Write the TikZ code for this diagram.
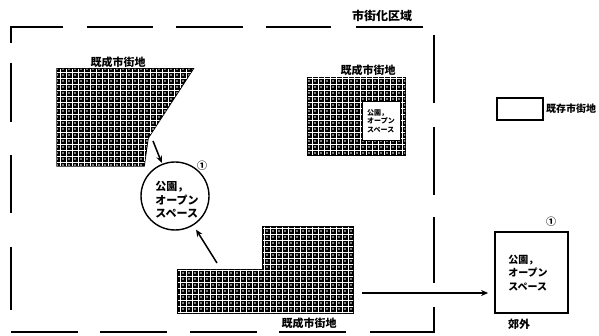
\documentclass[tikz,border=0pt]{standalone}
\usepackage{fontspec}
\setmainfont{Noto Sans CJK JP}
\usetikzlibrary{patterns.meta,arrows.meta}
\begin{document}
\begin{tikzpicture}[x=1pt,y=-1pt,
  bnd/.style={line width=2.2pt},
  hatchblock/.style={draw=black,line width=1.5pt,fill=black,
    postaction={pattern={Hatch[angle=0,distance=6pt,line width=0.4pt]},pattern color=white},
    postaction={pattern={Dots[distance=6pt,radius=0.9pt,xshift=3pt,yshift=3pt]},pattern color=white}},
  lbl/.style={font=\bfseries\fontsize{11}{12}\selectfont,inner sep=0pt},
  arr/.style={line width=1.5pt,-{Stealth[length=7pt,width=6pt]}},
  jptext/.style={font=\bfseries\fontsize{10}{13.5}\selectfont,align=left,inner sep=0pt}]
\useasboundingbox (0,0) rectangle (599,336);
% dashed boundary of the urbanization area
\draw[bnd] (11,43) -- (11,27) -- (63,27);
\foreach \a/\b in {87/153,176/243,266/331,356/423} \draw[bnd] (\a,27) -- (\b,27);
\foreach \a/\b in {63/122,155/213,247/310} \draw[bnd] (11,\a) -- (11,\b);
\foreach \a/\b in {11/78,100/167,190/257,279/346} \draw[bnd] (\a,332) -- (\b,332);
\draw[bnd] (370,332) -- (434,332) -- (434,307);
\foreach \a/\b in {35/103,127/195,217/283} \draw[bnd] (434,\a) -- (434,\b);
\node[lbl,font=\bfseries\fontsize{12}{13}\selectfont] (area) at (382,16) {市街化区域};
% existing urban areas
\draw[hatchblock] (57,69) -- (193,69) -- (148,138) -- (144,166) -- (57,166) -- cycle;
\node[lbl] (l1) at (118,62) {既成市街地};
\draw[hatchblock] (308,78) rectangle (405,155);
\node[lbl] (l2) at (368,70) {既成市街地};
\node[draw=black,line width=1pt,fill=white,minimum width=38pt,minimum height=39pt,
  font=\bfseries\fontsize{7}{8.5}\selectfont,align=left,inner sep=0pt] (inner) at (381,121) {公園，\\オープン\\スペース};
\draw[hatchblock] (178,270) -- (263,270) -- (263,227) -- (353,227) -- (353,313) -- (178,313) -- cycle;
\node[lbl] (l3) at (309,323) {既成市街地};
% park / open space
\node[draw=black,line width=1.4pt,circle,minimum size=68pt,inner sep=0pt] (park) at (175,196) {};
\node[jptext,font=\bfseries\fontsize{11}{13.5}\selectfont] (parktext) at (177,200) {公園，\\オープン\\スペース};
\node[lbl,font=\bfseries\fontsize{10}{11}\selectfont] (n1) at (202,166) {①};
\coordinate (a1s) at (153,141);
\coordinate (a2s) at (217,263);
\draw[arr,shorten >=1pt] (a1s) -- (park);
\draw[arr,shorten >=5pt] (a2s) -- (park);
% legend
\node[draw=black,line width=1.8pt,minimum width=46pt,minimum height=22pt,inner sep=0pt] (legend) at (520,109) {};
\node[lbl,font=\bfseries\fontsize{10}{11}\selectfont,anchor=west] (legendtext) at (546,109) {既存市街地};
% suburb
\node[draw=black,line width=1.8pt,minimum width=73pt,minimum height=81pt,inner sep=0pt] (suburb) at (531.5,272.5) {};
\node[jptext] (suburbtext) at (528,273) {公園，\\オープン\\スペース};
\node[lbl,font=\bfseries\fontsize{10}{11}\selectfont] (n2) at (551,222) {①};
\node[lbl] (l4) at (519,324) {郊外};
\coordinate (a3s) at (362,293);
\draw[arr,shorten >=6pt] (a3s) -- (suburb.west |- a3s);
\end{tikzpicture}
\end{document}
